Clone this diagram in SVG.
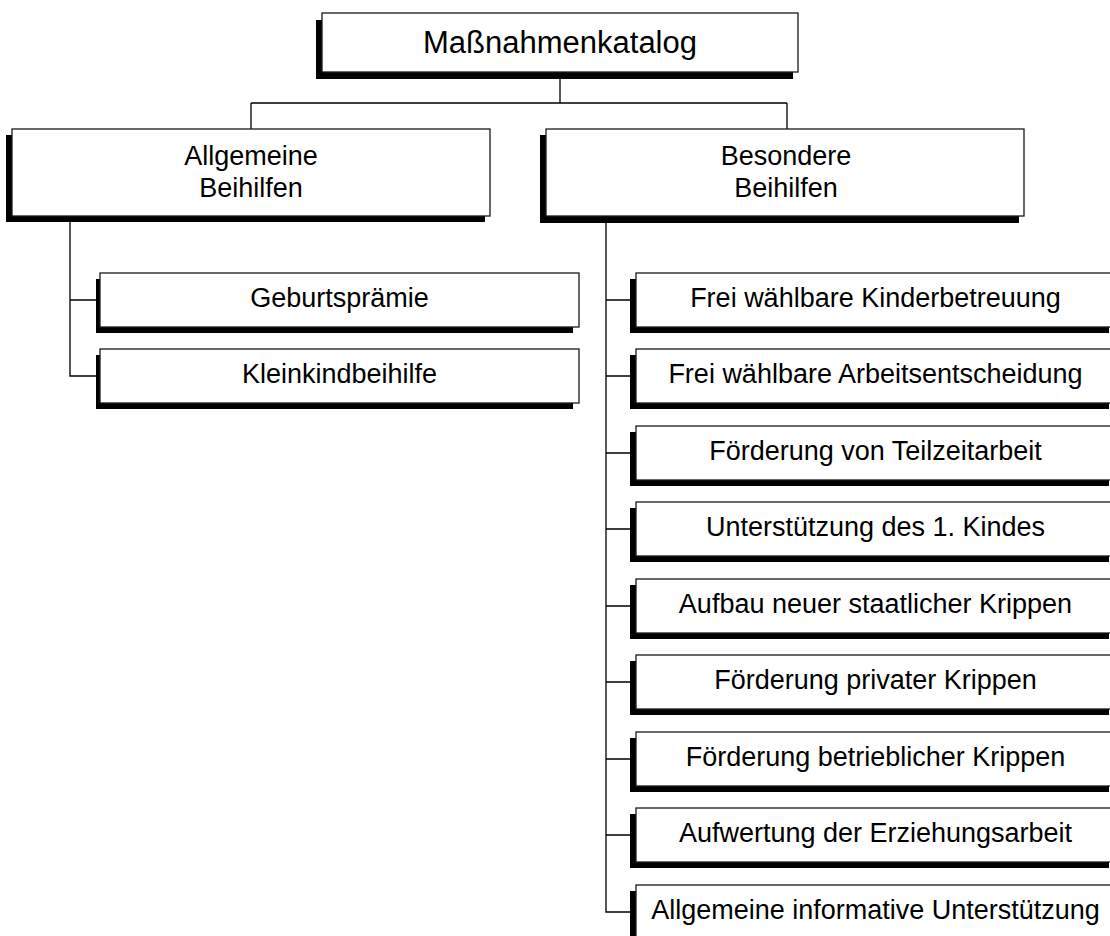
<svg xmlns="http://www.w3.org/2000/svg" width="1110" height="936" viewBox="0 0 1110 936">
<style>
.sh{fill:#000}
.bx{fill:#fff;stroke:#1a1a1a;stroke-width:1.3}
.cn{fill:none;stroke:#000;stroke-width:1.3}
text{font-family:"Liberation Sans",Arial,sans-serif;fill:#000;text-anchor:middle}
.t1{font-size:31px}
.t2{font-size:27px}
.t3{font-size:27px}
</style>
<rect width="1110" height="936" fill="#fff"/>
<g id="connectors">
<path class="cn" d="M560,79V103M251,103H787M251,103V129M787,103V129"/>
<path class="cn" d="M70,222V376H96M70,300H96"/>
<path class="cn" d="M606,223V912H630M606,300H630M606,376H630M606,453H630M606,529H630M606,606H630M606,682H630M606,759H630M606,835H630"/>
</g>
<g id="n0">
<rect class="sh" x="316" y="20" width="477" height="59"/>
<rect class="bx" x="322" y="13" width="476" height="59"/>
<text class="t1" x="560" y="53">Maßnahmenkatalog</text>
</g>
<g id="n1">
<rect class="sh" x="6" y="135" width="479" height="87"/>
<rect class="bx" x="12" y="129" width="478" height="87"/>
<text class="t2" x="251" y="165">Allgemeine</text>
<text class="t2" x="251" y="197">Beihilfen</text>
</g>
<g id="n2">
<rect class="sh" x="540" y="135" width="479" height="88"/>
<rect class="bx" x="546" y="129" width="478" height="87"/>
<text class="t2" x="786" y="165">Besondere</text>
<text class="t2" x="786" y="197">Beihilfen</text>
</g>
<g id="n3">
<rect class="sh" x="96" y="279" width="477" height="54"/>
<rect class="bx" x="100" y="273" width="479" height="54"/>
<text class="t3" x="339.5" y="307">Geburtsprämie</text>
</g>
<g id="n4">
<rect class="sh" x="96" y="355" width="477" height="54"/>
<rect class="bx" x="100" y="349" width="479" height="54"/>
<text class="t3" x="339.5" y="383">Kleinkindbeihilfe</text>
</g>
<g id="n5">
<rect class="sh" x="630" y="279" width="479" height="54"/>
<rect class="bx" x="636" y="273" width="480" height="54"/>
<text class="t3" x="875.5" y="307">Frei wählbare Kinderbetreuung</text>
</g>
<g id="n6">
<rect class="sh" x="630" y="355" width="479" height="54"/>
<rect class="bx" x="636" y="349" width="480" height="54"/>
<text class="t3" x="875.5" y="383">Frei wählbare Arbeitsentscheidung</text>
</g>
<g id="n7">
<rect class="sh" x="630" y="432" width="479" height="54"/>
<rect class="bx" x="636" y="426" width="480" height="54"/>
<text class="t3" x="875.5" y="460">Förderung von Teilzeitarbeit</text>
</g>
<g id="n8">
<rect class="sh" x="630" y="508" width="479" height="54"/>
<rect class="bx" x="636" y="502" width="480" height="54"/>
<text class="t3" x="875.5" y="536">Unterstützung des 1. Kindes</text>
</g>
<g id="n9">
<rect class="sh" x="630" y="585" width="479" height="54"/>
<rect class="bx" x="636" y="579" width="480" height="54"/>
<text class="t3" x="875.5" y="613">Aufbau neuer staatlicher Krippen</text>
</g>
<g id="n10">
<rect class="sh" x="630" y="661" width="479" height="54"/>
<rect class="bx" x="636" y="655" width="480" height="54"/>
<text class="t3" x="875.5" y="689">Förderung privater Krippen</text>
</g>
<g id="n11">
<rect class="sh" x="630" y="738" width="479" height="54"/>
<rect class="bx" x="636" y="732" width="480" height="54"/>
<text class="t3" x="875.5" y="766">Förderung betrieblicher Krippen</text>
</g>
<g id="n12">
<rect class="sh" x="630" y="814" width="479" height="54"/>
<rect class="bx" x="636" y="808" width="480" height="54"/>
<text class="t3" x="875.5" y="842">Aufwertung der Erziehungsarbeit</text>
</g>
<g id="n13">
<rect class="sh" x="630" y="891" width="479" height="54"/>
<rect class="bx" x="636" y="885" width="480" height="54"/>
<text class="t3" x="875.5" y="919">Allgemeine informative Unterstützung</text>
</g>
</svg>
